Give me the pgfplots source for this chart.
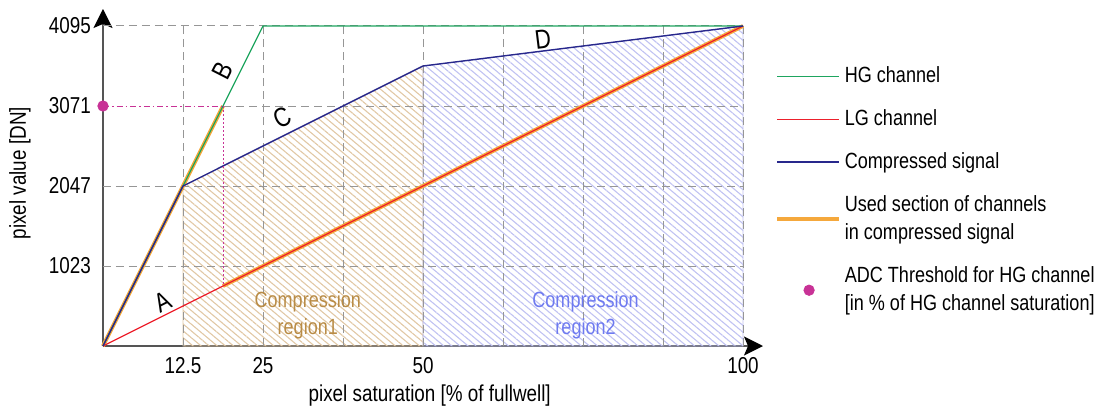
\documentclass[border=0pt]{standalone}
\usepackage{fontspec}
\IfFontExistsTF{Liberation Sans Narrow}{\setmainfont{Liberation Sans Narrow}}{\setmainfont{Liberation Sans}[FakeStretch=0.82]}
\usepackage{pgfplots}
\pgfplotsset{compat=1.18}
\usetikzlibrary{patterns.meta,arrows.meta}
\definecolor{greenC}{RGB}{30,165,95}
\definecolor{redC}{RGB}{236,32,44}
\definecolor{navyC}{RGB}{40,40,140}
\definecolor{orangeC}{RGB}{245,168,60}
\definecolor{magC}{RGB}{200,50,150}
\definecolor{hatchbrown}{RGB}{225,200,165}
\definecolor{hatchblue}{RGB}{192,194,242}
\definecolor{brownText}{RGB}{185,140,70}
\definecolor{blueText}{RGB}{110,122,240}
\definecolor{gridC}{RGB}{150,150,150}
\definecolor{axisC}{RGB}{85,85,85}
\begin{document}
\begin{tikzpicture}
\useasboundingbox (-51.5pt,-31pt) rectangle (505pt,173pt);
\begin{axis}[
  at={(0pt,0pt)}, anchor=south west,
  scale only axis, width=330pt, height=168.5pt,
  xmin=0, xmax=103.125, ymin=0, ymax=4312.5,
  axis lines=left,
  axis line style={draw=axisC, line width=0.8pt, -{Stealth[length=9.5pt,width=9.5pt,inset=2pt,color=black]}},
  xtick={12.5,25,50,100}, xticklabels={12.5,25,50,100},
  ytick={1023,2047,3071,4095}, yticklabels={1023,2047,3071,4095},
  major tick length=0pt, tick style={draw=none},
  /pgf/number format/assume math mode=true,
  ticklabel style={font=\fontsize{11.5}{13}\selectfont},
  xticklabel style={yshift=-2pt},
  yticklabel style={xshift=-2.5pt},
  clip=false,
  xlabel={pixel saturation [\% of fullwell]},
  ylabel={pixel value [DN]},
  xlabel style={at={([yshift=-27.5pt]axis description cs:0.495,0)}, anchor=base, font=\fontsize{11.5}{13}\selectfont},
  ylabel style={at={([xshift=-41.5pt]axis description cs:0,0.513)}, anchor=center, font=\fontsize{11.5}{13}\selectfont},
  legend style={at={(1.018,0.841)}, anchor=north west, draw=none, fill=none, inner sep=0pt, row sep=8pt, font=\fontsize{11}{14}\selectfont, cells={align=left}, every even column/.append style={column sep=2.5pt}},
  legend cell align=left,
  legend image code/.code={\draw[#1] (0pt,0pt) -- (31pt,0pt);},
]
% hatched regions
\addplot[draw=hatchbrown, line width=0.4pt, pattern={Lines[angle=-40,distance=2.6pt,line width=0.55pt]}, pattern color=hatchbrown, mark=none, forget plot] coordinates {(12.5,2047) (50,3583)} \closedcycle;
\addplot[draw=hatchblue, line width=0.4pt, pattern={Lines[angle=-40,distance=2.6pt,line width=0.55pt]}, pattern color=hatchblue, mark=none, forget plot] coordinates {(50,3583) (100,4095)} \closedcycle;
% grid
\pgfplotsinvokeforeach{12.5,25,37.5,50,62.5,75,87.5,100}{\draw[gridC, line width=0.5pt, dash pattern=on 4pt off 2.5pt] (axis cs:#1,0) -- (axis cs:#1,4095);}
\pgfplotsinvokeforeach{1023,2047,4095}{\draw[gridC, line width=0.5pt, dash pattern=on 4pt off 2.5pt] (axis cs:0,#1) -- (axis cs:100,#1);}
\draw[gridC, line width=0.5pt, dash pattern=on 4pt off 2.5pt] (axis cs:18.75,3071) -- (axis cs:100,3071);
% used sections
\addplot[orangeC, line width=2pt, mark=none, forget plot] coordinates {(0,0) (18.75,3071)};
\addplot[orangeC, line width=2pt, mark=none, forget plot] coordinates {(18.75,767.75) (100,4095)};
% channels
\addplot[greenC, line width=0.6pt, mark=none, forget plot] coordinates {(0,0) (25,4095) (100,4095)};
\addplot[redC, line width=0.6pt, mark=none, forget plot] coordinates {(0,0) (100,4095)};
\addplot[navyC, line width=0.7pt, mark=none, forget plot] coordinates {(0,0) (12.5,2047) (50,3583) (100,4095)};
% threshold
\addplot[magC, line width=0.5pt, mark=none, dash pattern=on 3pt off 1.5pt on 0.8pt off 1.5pt, forget plot] coordinates {(0,3071) (18.75,3071)};
\addplot[magC, line width=0.5pt, mark=none, dash pattern=on 1pt off 1pt, forget plot] coordinates {(18.75,3071) (18.75,767.75)};
\addplot[magC, only marks, mark=*, mark size=2.6pt, forget plot] coordinates {(0,3071)};
% letters
\node[font=\fontsize{13.5}{13.5}\selectfont, rotate=27] at (axis cs:9.4,563) {A};
\node[font=\fontsize{13.5}{13.5}\selectfont, rotate=63] at (axis cs:18.75,3519) {B};
\node[font=\fontsize{13.5}{13.5}\selectfont, rotate=27] at (axis cs:28,2918) {C};
\node[font=\fontsize{13.5}{13.5}\selectfont, rotate=7] at (axis cs:68.75,3929) {D};
\node[brownText, align=center, font=\fontsize{11}{13.5}\selectfont] at (axis cs:32,397) {Compression\\region1};
\node[blueText, align=center, font=\fontsize{11}{13.5}\selectfont] at (axis cs:75.4,397) {Compression\\region2};
% legend
\addlegendimage{greenC, line width=0.75pt}
\addlegendentry{HG channel}
\addlegendimage{redC, line width=0.75pt}
\addlegendentry{LG channel}
\addlegendimage{navyC, line width=0.9pt}
\addlegendentry{Compressed signal}
\addlegendimage{orangeC, line width=1.8pt}
\addlegendentry{Used section of channels\\in compressed signal}
\addlegendimage{legend image code/.code={\fill[magC] (16pt,0pt) circle (2.6pt);}}
\addlegendentry{ADC Threshold for HG channel\\{[in \% of HG channel saturation]}}
\end{axis}
\end{tikzpicture}
\end{document}
